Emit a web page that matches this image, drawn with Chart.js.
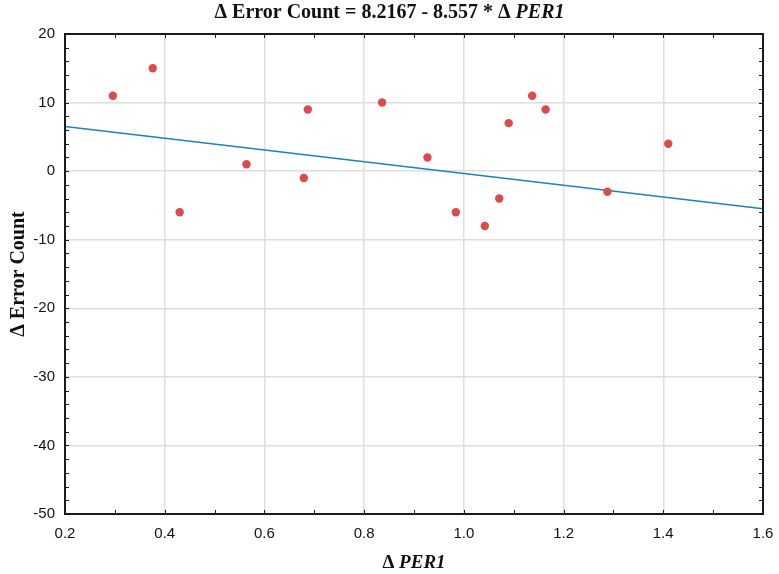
<!DOCTYPE html>
<html>
<head>
<meta charset="utf-8">
<script src="https://cdn.jsdelivr.net/npm/chart.js@4"></script>
<style>
    html, body { margin: 0; padding: 0; background: #fff; }
    #wrap { width: 779px; height: 574px; position: relative; }
</style>
</head>
<body>
<div id="wrap"><canvas id="scatterChart"></canvas></div>
<script>
// ========== 数据 ==========
const perValues = [0.296, 0.376, 0.430, 0.564, 0.679, 0.687, 0.836, 0.927, 0.984, 1.042, 1.071, 1.090, 1.137, 1.164, 1.288, 1.410];
const errorValues = [11, 15, -6, 1, -1, 9, 10, 2, -6, -8, -4, 7, 11, 9, -3, 4];
const fitIntercept = 8.2167;
const fitSlope = -8.557;
const xRange = [0.2, 1.6];
const yRange = [-50, 20];

const COLORS = {
    point: '#DC4B4B',
    line: '#1C7FC7',
    grid: '#DEDEDE',
    axis: '#1A1A1A',
    text: '#111111'
};

const SERIF = '"Liberation Serif", "Times New Roman", serif';
const SANS = '"Liberation Sans", Arial, sans-serif';

// regression line endpoints from the equation in the title
const fitLine = xRange.map(x => ({ x: x, y: fitIntercept + fitSlope * x }));
const points = perValues.map((x, i) => ({ x: x, y: errorValues[i] }));

function drawMixed(ctx, parts, cx, cy, size) {
    let total = 0;
    parts.forEach(p => {
        ctx.font = (p.italic ? 'italic ' : '') + 'bold ' + size + 'px ' + SERIF;
        p.w = ctx.measureText(p.text).width;
        total += p.w;
    });
    let x = cx - total / 2;
    ctx.textAlign = 'left';
    ctx.textBaseline = 'middle';
    parts.forEach(p => {
        ctx.font = (p.italic ? 'italic ' : '') + 'bold ' + size + 'px ' + SERIF;
        ctx.fillText(p.text, x, cy);
        x += p.w;
    });
}

const framePlugin = {
    id: 'frame',
    afterDatasetsDraw(chart) {
        const { ctx, chartArea: a, scales } = chart;
        const xs = scales.x, ys = scales.y;
        ctx.save();
        ctx.strokeStyle = COLORS.axis;
        ctx.lineWidth = 1;
        // tick marks pointing inward on all four sides
        for (let v = xRange[0]; v <= xRange[1] + 1e-9; v += 0.1) {
            const px = Math.round(xs.getPixelForValue(v)) + 0.5;
            ctx.beginPath();
            ctx.moveTo(px, a.bottom); ctx.lineTo(px, a.bottom - 4);
            ctx.moveTo(px, a.top); ctx.lineTo(px, a.top + 4);
            ctx.stroke();
        }
        for (let v = yRange[0]; v <= yRange[1] + 1e-9; v += 2) {
            const py = Math.round(ys.getPixelForValue(v)) + 0.5;
            ctx.beginPath();
            ctx.moveTo(a.left, py); ctx.lineTo(a.left + 4, py);
            ctx.moveTo(a.right, py); ctx.lineTo(a.right - 4, py);
            ctx.stroke();
        }
        ctx.lineWidth = 2;
        ctx.strokeRect(a.left, a.top, a.right - a.left, a.bottom - a.top);

        ctx.fillStyle = COLORS.text;
        drawMixed(ctx, [{ text: 'Δ Error Count = 8.2167 - 8.557 * Δ ' }, { text: 'PER1', italic: true }], chart.width / 2, 13, 20);
        drawMixed(ctx, [{ text: 'Δ ' }, { text: 'PER1', italic: true }], (a.left + a.right) / 2, 563, 19);
        ctx.translate(19, (a.top + a.bottom) / 2);
        ctx.rotate(-Math.PI / 2);
        drawMixed(ctx, [{ text: 'Δ Error Count' }], 0, 0, 20);
        ctx.restore();
    }
};

new Chart(document.getElementById('scatterChart'), {
    type: 'scatter',
    data: {
        datasets: [{
            label: 'fit',
            type: 'line',
            data: fitLine,
            borderColor: COLORS.line,
            borderWidth: 1.6,
            pointRadius: 0,
            fill: false,
            order: 2
        }, {
            label: 'data',
            data: points,
            backgroundColor: COLORS.point,
            borderColor: COLORS.point,
            pointRadius: 4.2,
            borderWidth: 0,
            order: 1
        }]
    },
    options: {
        responsive: true,
        maintainAspectRatio: false,
        animation: false,
        layout: { padding: { left: 0, right: 16, top: 34, bottom: 0 } },
        plugins: {
            legend: { display: false },
            tooltip: { enabled: false }
        },
        scales: {
            x: {
                type: 'linear',
                min: xRange[0],
                max: xRange[1],
                afterFit: s => { s.height = 60; s.paddingRight = 0; s.paddingLeft = 0; },
                grid: { color: COLORS.grid, lineWidth: 1.5, drawTicks: false },
                border: { display: false },
                ticks: {
                    stepSize: 0.2,
                    padding: 11,
                    color: COLORS.text,
                    font: { family: SANS, size: 15 },
                    callback: v => v.toFixed(1)
                }
            },
            y: {
                type: 'linear',
                min: yRange[0],
                max: yRange[1],
                afterFit: s => { s.width = 65; },
                grid: { color: COLORS.grid, lineWidth: 1.5, drawTicks: false },
                border: { display: false },
                ticks: {
                    stepSize: 10,
                    padding: 10,
                    color: COLORS.text,
                    font: { family: SANS, size: 15 }
                }
            }
        }
    },
    plugins: [framePlugin]
});
</script>
</body>
</html>
